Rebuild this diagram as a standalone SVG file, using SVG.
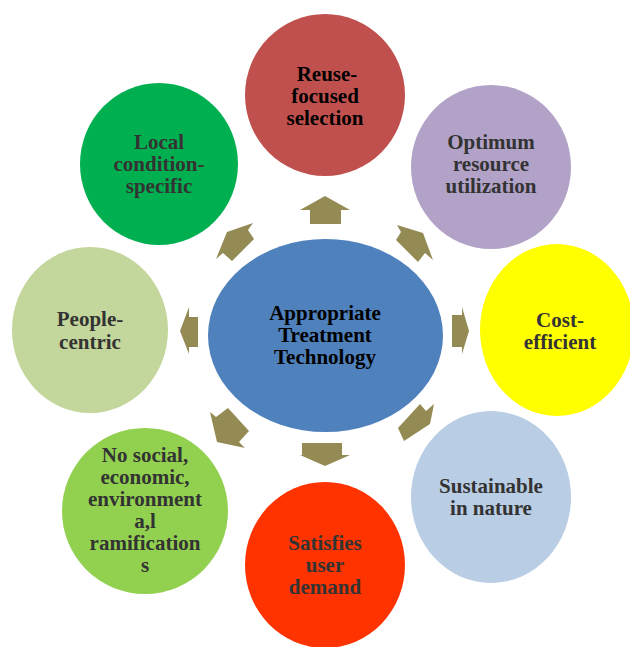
<svg xmlns="http://www.w3.org/2000/svg" width="630" height="647" viewBox="0 0 630 647">
  <style>
    .lbl { font-family: "Liberation Serif", "Times New Roman", serif; font-weight: bold; font-size: 21px; fill: #333333; text-anchor: middle; }
    .dark { fill: #000000; }
    .arrow { fill: #948A54; }
  </style>
  <rect width="630" height="647" fill="#ffffff"/>

  <!-- outward arrows from the hub -->
  <g id="connectors">
    <polygon class="arrow" points="325,196 350,210 341,210 341,224 310,224 310,210 300,210"/>
    <polygon class="arrow" points="423,233 433,260 425,253 418,262 396,240 401,232 397,225"/>
    <polygon class="arrow" points="452,315 462,315 462,307 469,331 462,354 462,347 452,347"/>
    <polygon class="arrow" points="420,404 426,411 434,404 430,424 404,441 398,428"/>
    <polygon class="arrow" points="302,443 342,443 342,455 350,455 325,466 300,455 302,455"/>
    <polygon class="arrow" points="217,442 245,448 239,442 249,431 228,408 216,417 210,412"/>
    <polygon class="arrow" points="180,331 189,307 189,317 198,317 198,347 189,347 189,354"/>
    <polygon class="arrow" points="227,232 253,223 248,230 254,239 232,261 223,253 216,259"/>
  </g>

  <g id="hub">
    <ellipse cx="325.5" cy="335.5" rx="117.5" ry="96.5" fill="#4F81BD"/>
    <text class="lbl dark" x="325" y="320">Appropriate</text>
    <text class="lbl dark" x="325" y="342">Treatment</text>
    <text class="lbl dark" x="325" y="364">Technology</text>
  </g>

  <g id="reuse">
    <ellipse cx="325" cy="95" rx="80" ry="81" fill="#C0504D"/>
    <text class="lbl dark" x="327" y="81">Reuse-</text>
    <text class="lbl dark" x="325" y="103">focused</text>
    <text class="lbl dark" x="325" y="125">selection</text>
  </g>

  <g id="optimum">
    <ellipse cx="491" cy="167" rx="80" ry="82" fill="#B2A2C7"/>
    <text class="lbl" x="491" y="149">Optimum</text>
    <text class="lbl" x="491" y="171">resource</text>
    <text class="lbl" x="491" y="193">utilization</text>
  </g>

  <g id="cost">
    <ellipse cx="557" cy="330" rx="77" ry="86" fill="#FFFF00"/>
    <text class="lbl" x="560" y="327">Cost-</text>
    <text class="lbl" x="560" y="349">efficient</text>
  </g>

  <g id="sustainable">
    <ellipse cx="491" cy="497" rx="80" ry="86" fill="#B9CDE5"/>
    <text class="lbl" x="491" y="493">Sustainable</text>
    <text class="lbl" x="491" y="515">in nature</text>
  </g>

  <g id="satisfies">
    <ellipse cx="325" cy="565" rx="80" ry="83" fill="#FF3300"/>
    <text class="lbl" x="325" y="550">Satisfies</text>
    <text class="lbl" x="325" y="572">user</text>
    <text class="lbl" x="325" y="594">demand</text>
  </g>

  <g id="ramifications">
    <ellipse cx="145" cy="511" rx="83" ry="83" fill="#92D050"/>
    <text class="lbl" x="145" y="462">No social,</text>
    <text class="lbl" x="145" y="484">economic,</text>
    <text class="lbl" x="145" y="506">environment</text>
    <text class="lbl" x="145" y="528">a,l</text>
    <text class="lbl" x="145" y="550">ramification</text>
    <text class="lbl" x="145" y="572">s</text>
  </g>

  <g id="people">
    <ellipse cx="90" cy="330" rx="78" ry="83" fill="#C3D69B"/>
    <text class="lbl" x="90" y="326">People-</text>
    <text class="lbl" x="90" y="349">centric</text>
  </g>

  <g id="local">
    <ellipse cx="159" cy="164" rx="79" ry="81" fill="#00B050"/>
    <text class="lbl" x="159" y="149">Local</text>
    <text class="lbl" x="159" y="171">condition-</text>
    <text class="lbl" x="159" y="193">specific</text>
  </g>
</svg>
